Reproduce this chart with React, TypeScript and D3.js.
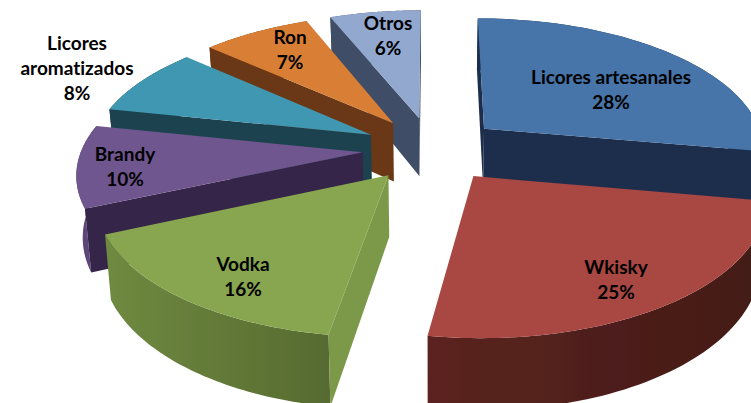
import React from "react";
import * as d3 from "d3";

const categories = ["Licores artesanales", "Wkisky", "Vodka", "Brandy", "Licores aromatizados", "Ron", "Otros"];
const shares = [27.8, 24.7, 15.9, 9.9, 8.3, 7.3, 6.1];
const shareLabels = ["28%", "25%", "16%", "10%", "8%", "7%", "6%"];
const topColors = ["#4674a9", "#a94643", "#88a64f", "#70568f", "#4197b1", "#d97f35", "#92a8cf"];
const cutColors = ["#1b2f4c", "#451a17", "#7c9849", "#36254a", "#1b4350", "#6b3812", "#3f4d66"];
const rimColors = ["#1b2f4c", "url(#rimRed)", "url(#rimGreen)", "#5c4678", "#1b4350", "#6b3812", "#3f4d66"];
const paintOrder = [6, 5, 4, 0, 3, 1, 2];

const W = 751, H = 403;
const CX = 432, CY = 149, RX = 281, RY = 131;
const EXPLODE = 0.247, PERSP = 0.14, DEPTH = 60;
const sx = d3.scaleLinear().domain([-1, 1]).range([CX - RX, CX + RX]);
const sy = d3.scaleLinear().domain([-1, 1]).range([CY - RY, CY + RY]);
const path = d3.line<[number, number]>();

type P = [number, number];
function proj(X: number, Y: number, drop: boolean): P {
  const g = 1 / (1 - PERSP * Y);
  const x = CX + (sx(X) - CX) * g;
  const y = CY + (sy(Y) - CY) * g;
  if (!drop) return [x, y];
  return [CX + (x - CX) * 0.982, y + DEPTH * g];
}

const arcs = d3.pie<number>().sort(null).startAngle(0).endAngle(2 * Math.PI)(shares);

const labelBoxes = [
  { x: 611, y: 84 },
  { x: 616, y: 274 },
  { x: 243, y: 271 },
  { x: 125, y: 161 },
  { x: 77, y: 50 },
  { x: 290, y: 44 },
  { x: 388, y: 30 },
];
const labelLines = [["Licores artesanales"], ["Wkisky"], ["Vodka"], ["Brandy"], ["Licores", "aromatizados"], ["Ron"], ["Otros"]];

function frontFacing(a: P, b: P, c: P) {
  // true when the wedge's centre c lies above the edge a-b, so the cut wall under it shows
  const dx = b[0] - a[0];
  if (Math.abs(dx) < 1) return false;
  return a[1] + ((c[0] - a[0]) * (b[1] - a[1])) / dx > c[1];
}

export default function App() {
  const slices = arcs.map((a, i) => {
    const mid = (a.startAngle + a.endAngle) / 2;
    const ox = EXPLODE * Math.sin(mid);
    const oy = -EXPLODE * Math.cos(mid);
    const angles = d3.range(0, 61).map((k) => a.startAngle + ((a.endAngle - a.startAngle) * k) / 60);
    const rim = (drop: boolean) => angles.map((t) => proj(ox + Math.sin(t), oy - Math.cos(t), drop));
    const centre = proj(ox + 0.6 * Math.sin(mid), oy - 0.6 * Math.cos(mid), false);
    return { i, apex: proj(ox, oy, false), apexB: proj(ox, oy, true), top: rim(false), bot: rim(true), centre };
  });
  return (
    <svg width={W} height={H} viewBox={`0 0 ${W} ${H}`} style={{ position: "fixed", left: 0, top: 0, background: "#fff" }}>
      <defs>
        <filter id="soft" x="-5%" y="-5%" width="110%" height="110%">
          <feGaussianBlur stdDeviation="0.6" />
        </filter>
        <linearGradient id="rimRed" gradientUnits="userSpaceOnUse" x1={428} x2={751} y1={0} y2={0}>
          <stop offset="0" stopColor="#5c2420" />
          <stop offset="1" stopColor="#431a16" />
        </linearGradient>
        <linearGradient id="rimGreen" gradientUnits="userSpaceOnUse" x1={104} x2={328} y1={0} y2={0}>
          <stop offset="0" stopColor="#6f8a40" />
          <stop offset="0.5" stopColor="#637a38" />
          <stop offset="1" stopColor="#566b30" />
        </linearGradient>
      </defs>
      <g filter="url(#soft)">
        {paintOrder.map((idx) => {
          const s = slices[idx];
          const n = s.top.length - 1;
          const walls = [0, n].filter((k) => frontFacing(s.apex, s.top[k], s.centre) || (idx === 0 && k === 0));
          return (
            <g key={idx}>
              <path d={path([...s.top, ...[...s.bot].reverse()]) + "Z"} fill={rimColors[idx]} />
              {walls.map((k) => (
                <path key={k} d={path([s.apex, s.top[k], s.bot[k], s.apexB]) + "Z"} fill={cutColors[idx]} />
              ))}
              <path d={path([s.apex, ...s.top]) + "Z"} fill={topColors[idx]} />
            </g>
          );
        })}
      </g>
      <g fontFamily="Lato, sans-serif" fontWeight={700} fontSize={19} textAnchor="middle" fill="#000" style={{ fontVariantLigatures: "none" }}>
        {categories.map((c, i) => {
          const b = labelBoxes[i];
          return (
            <text key={c} x={b.x} y={b.y}>
              {[...labelLines[i], shareLabels[i]].map((t, k) => (
                <tspan key={k} x={b.x} dy={k === 0 ? 0 : 25}>{t}</tspan>
              ))}
            </text>
          );
        })}
      </g>
    </svg>
  );
}
